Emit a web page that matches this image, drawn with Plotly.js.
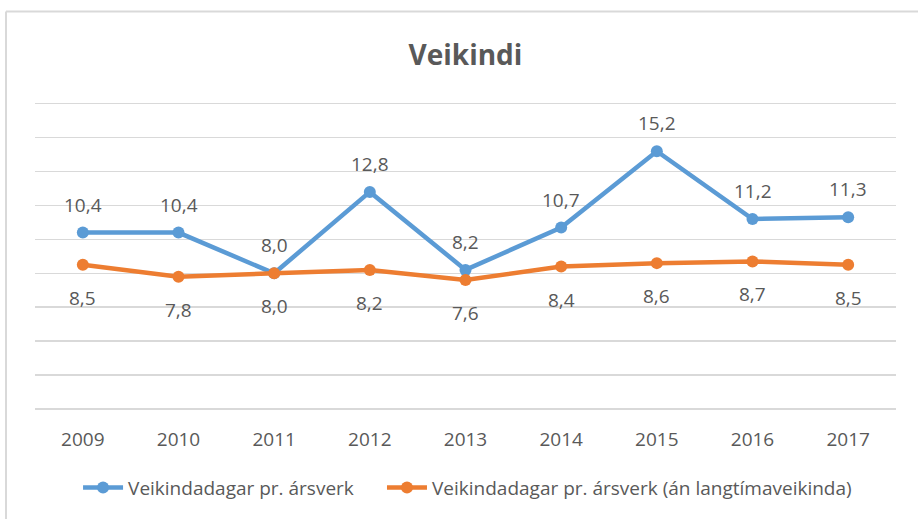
<!DOCTYPE html>
<html>
<head>
<meta charset="utf-8">
<script src="https://cdn.plot.ly/plotly-3.0.1.min.js"></script>
<style>html,body{margin:0;padding:0;background:#fff;}#chart{width:918px;height:519px;}</style>
</head>
<body>
<div id="chart"></div>
<script>
const years = ['2009','2010','2011','2012','2013','2014','2015','2016','2017'];
const seriesNames = ['Veikindadagar pr. ársverk', 'Veikindadagar pr. ársverk (án langtímaveikinda)'];
const allSick = [10.4, 10.4, 8.0, 12.8, 8.2, 10.7, 15.2, 11.2, 11.3];
const withoutLongTerm = [8.5, 7.8, 8.0, 8.2, 7.6, 8.4, 8.6, 8.7, 8.5];

const FONT = "'Open Sans', 'Noto Sans', sans-serif";
const GREY = '#595959';
const BLUE = '#5b9bd5';
const ORANGE = '#ed7d31';

const xs = years.map(Number);
function fmt(v){ return v.toFixed(1).replace('.', ','); }

const traces = [
  {x: xs, y: allSick, name: seriesNames[0], type: 'scatter', mode: 'lines+markers', legend: 'legend',
   line: {color: BLUE, width: 4.5}, marker: {color: BLUE, size: 12}},
  {x: xs, y: withoutLongTerm, name: seriesNames[1], type: 'scatter', mode: 'lines+markers', legend: 'legend2',
   line: {color: ORANGE, width: 4.5}, marker: {color: ORANGE, size: 12}}
];

const annotations = [];
xs.forEach((yr, i) => {
  annotations.push({x: yr, y: allSick[i], xref: 'x', yref: 'y', text: fmt(allSick[i]),
    showarrow: false, yshift: 28, font: {family: FONT, size: 19, color: GREY}});
  annotations.push({x: yr, y: withoutLongTerm[i], xref: 'x', yref: 'y', text: fmt(withoutLongTerm[i]),
    showarrow: false, yshift: -33, font: {family: FONT, size: 19, color: GREY}});
});

const legendStyle = {orientation: 'h', xanchor: 'left', y: -0.256, yanchor: 'middle',
  font: {family: FONT, size: 19, color: GREY}, itemwidth: 40, bgcolor: 'rgba(0,0,0,0)'};

const layout = {
  width: 918, height: 519,
  paper_bgcolor: '#ffffff', plot_bgcolor: '#ffffff',
  margin: {l: 35, r: 22, t: 102, b: 106},
  font: {family: FONT, color: GREY},
  title: {text: '<b>Veikindi</b>', x: 0.507, xanchor: 'center', y: 1 - 55/519, yanchor: 'middle',
    font: {family: FONT, size: 28, color: GREY}},
  xaxis: {type: 'linear', range: [xs[0] - 0.5, xs[xs.length - 1] + 0.5],
    tickmode: 'array', tickvals: xs, ticktext: years,
    showgrid: false, zeroline: false, showline: false, ticks: '', ticklabelstandoff: 17,
    tickfont: {family: FONT, size: 19, color: GREY}, fixedrange: true},
  yaxis: {range: [0, 18.1], tickmode: 'linear', tick0: 0, dtick: 2, showticklabels: false, showgrid: true, gridcolor: '#d9d9d9',
    gridwidth: 1.5, zeroline: true, zerolinecolor: '#d9d9d9', zerolinewidth: 1.5, showline: false, ticks: '', fixedrange: true},
  showlegend: true,
  legend: Object.assign({}, legendStyle, {x: 0.050}),
  legend2: Object.assign({}, legendStyle, {x: 0.403}),
  annotations: annotations,
  shapes: [
    {type: 'line', xref: 'paper', yref: 'paper', x0: -0.0337, x1: 1.03, y0: 1.295, y1: 1.295,
     line: {color: '#d9d9d9', width: 2}},
    {type: 'line', xref: 'paper', yref: 'paper', x0: -0.0337, x1: -0.0337, y0: 1.295, y1: -0.36,
     line: {color: '#d9d9d9', width: 2}}
  ]
};

Plotly.newPlot('chart', traces, layout, {displayModeBar: false, staticPlot: true});
</script>
</body>
</html>
